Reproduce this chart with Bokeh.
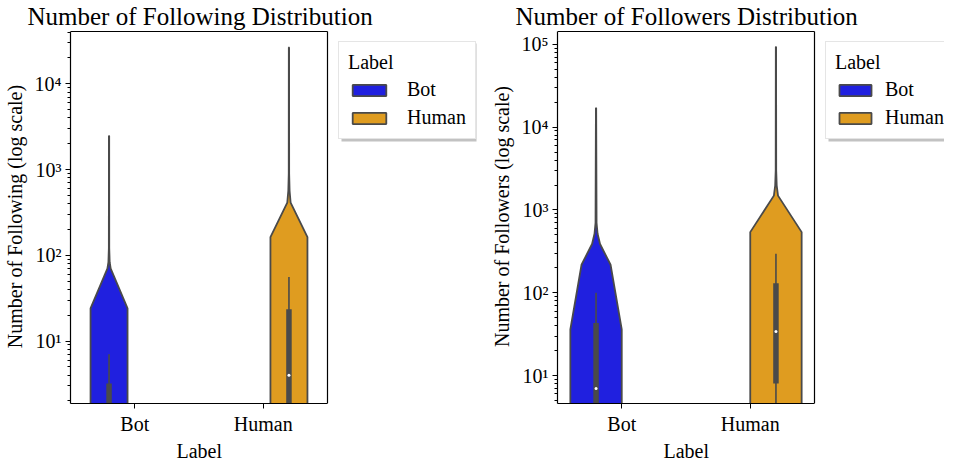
import math
from bokeh.plotting import figure
from bokeh.models import FixedTicker, Legend, LegendItem, Range1d, Title
from bokeh.layouts import row
from bokeh.embed import file_html
from bokeh.resources import INLINE

# ---------------- data ----------------
categories = ["Bot", "Human"]
colors = ["#2020df", "#df9c20"]
dodge = [-0.2, 0.2]

# Violin profiles (value levels bottom -> top, relative density)
following_levels = [
    [1.0, 24, 70, 83, 120, 2460],
    [1.0, 163, 412, 566, 900, 26500],
]
following_density = [
    [0.72, 0.72, 0.065, 0.025, 0.008, 0.005],
    [0.72, 0.72, 0.065, 0.025, 0.008, 0.005],
]
followers_levels = [
    [1.0, 36, 218, 388, 516, 700, 17000],
    [1.0, 540, 1490, 1970, 3000, 93000],
]
followers_density = [
    [1.0, 1.0, 0.565, 0.155, 0.06, 0.02, 0.005],
    [1.0, 1.0, 0.08, 0.03, 0.01, 0.005],
]

# Box statistics per category
following_whisker_lo = [1, 1]
following_q1 = [1, 1]
following_median = [1, 4]
following_q3 = [3.2, 23.5]
following_whisker_hi = [7, 56]

followers_whisker_lo = [1, 1]
followers_q1 = [2, 8]
followers_median = [7, 34]
followers_q3 = [43, 130]
followers_whisker_hi = [100, 295]

following_majors = [10, 100, 1000, 10000]
followers_majors = [10, 100, 1000, 10000, 100000]

SUP = str.maketrans("0123456789", "⁰¹²³⁴⁵⁶⁷⁸⁹")

FONT = "Liberation Serif"
EDGE = "#4a4a4a"
FW, FH = 257, 374          # plotting box size in px
HALF_SCALE = 0.2
LEG_X, LEG_TOP, LEG_H = 268, 11, 99


def make(title, ylabel, yr, levels, dens, wlo, q1, med, q3, whi, majors, mbl,
         extra, lpad, lstand, gw, lw, title_off):
    ppu = FW / 2.0
    x_end = 1.5 + extra / ppu
    ylo, yhi = yr
    ppd0 = FH / math.log10(yhi / ylo)
    y_end = yhi * 10 ** (2 / ppd0)
    ppd = FH / math.log10(y_end / ylo)

    def px_x(px):
        return -0.5 + px / ppu

    def px_y(px):
        return 10 ** (math.log10(ylo) + px / ppd)

    p = figure(
        frame_width=FW + extra, frame_height=FH,
        x_range=Range1d(-0.5, x_end), y_range=Range1d(ylo, y_end),
        y_axis_type="log", output_backend="svg", toolbar_location=None,
        min_border_left=mbl, min_border_right=0, min_border_top=0, min_border_bottom=0,
    )
    p.title.text = title
    p.title.text_font = FONT
    p.title.text_font_size = "25px"
    p.title.text_font_style = "normal"
    p.title.text_color = "black"
    p.title.align = "left"
    p.title.offset = title_off
    p.title.standoff = 0
    p.xgrid.visible = False
    p.ygrid.visible = False
    p.outline_line_color = None

    # top and right spines
    p.segment(x0=[-0.5, 1.5], y0=[yhi, ylo], x1=[1.5, 1.5], y1=[yhi, yhi],
              line_color="black", line_width=1.2)

    items = []
    for i, cat in enumerate(categories):
        cx = i + dodge[i]
        lv = levels[i]
        d = dens[i]
        xs = [cx - w * HALF_SCALE for w in d] + [cx + w * HALF_SCALE for w in reversed(d)]
        ys = list(lv) + list(reversed(lv))
        r = p.patch(xs, ys, fill_color=colors[i], line_color=EDGE, line_width=1.8)
        items.append(LegendItem(label=cat, renderers=[r]))
        p.segment(x0=[cx], y0=[wlo[i]], x1=[cx], y1=[whi[i]], line_color=EDGE, line_width=1.6)
        p.segment(x0=[cx], y0=[q1[i]], x1=[cx], y1=[q3[i]], line_color=EDGE, line_width=5.5,
                  line_cap="butt")
        p.scatter(x=[cx], y=[med[i]], size=3, fill_color="white", line_color=None)

    for ax in (p.xaxis[0], p.yaxis[0]):
        ax.axis_label_text_font = FONT
        ax.axis_label_text_font_size = "20px"
        ax.axis_label_text_font_style = "normal"
        ax.axis_label_text_color = "black"
        ax.major_label_text_font = FONT
        ax.major_label_text_font_size = "20px"
        ax.major_label_text_color = "black"
        ax.axis_line_color = "black"
        ax.axis_line_width = 1.2
        ax.major_tick_line_color = "black"
        ax.minor_tick_line_color = "black"
        ax.major_tick_in = 0
        ax.major_tick_out = 5
        ax.minor_tick_in = 0
        ax.minor_tick_out = 3
        ax.axis_label_standoff = 0
        ax.major_label_standoff = 2

    p.xaxis.bounds = (-0.5, 1.5)
    p.xaxis.ticker = FixedTicker(ticks=list(range(len(categories))))
    p.xaxis.major_label_overrides = {i: c for i, c in enumerate(categories)}
    p.xaxis.major_label_standoff = 4
    # x-axis title, centred under the plotting box (not under the legend area)
    p.add_layout(Title(text="Label", align="left", offset=106, standoff=0,
                       text_font=FONT, text_font_size="20px", text_font_style="normal",
                       text_color="black"), "below")

    minors = [k * 10 ** e for e in range(0, 6) for k in range(2, 10)]
    p.yaxis.axis_label = ylabel
    p.yaxis.bounds = (ylo, yhi)
    p.yaxis.ticker = FixedTicker(ticks=majors, minor_ticks=minors)
    p.yaxis.major_label_overrides = {m: "10" + str(len(str(m)) - 1).translate(SUP) for m in majors}
    p.yaxis.major_label_standoff = 4
    p.yaxis.axis_label_standoff = 6

    # legend drop shadow
    p.quad(left=[px_x(LEG_X + 3)], right=[px_x(LEG_X + lw + 2)],
           top=[px_y(FH - LEG_TOP - 3)], bottom=[px_y(FH - LEG_TOP - LEG_H - 2)],
           fill_color="#a8a8a8", fill_alpha=0.7, line_color=None)

    legend = Legend(
        items=items, title="Label", location=(LEG_X, FH - LEG_TOP - LEG_H),
        title_text_font=FONT, title_text_font_size="20px", title_text_font_style="normal",
        title_text_color="black",
        label_text_font=FONT, label_text_font_size="20px", label_text_color="black",
        glyph_width=gw, glyph_height=14, label_standoff=lstand,
        padding=lpad, spacing=5, title_standoff=4, margin=0,
        border_line_color="#cccccc", border_line_width=1,
        background_fill_color="white", background_fill_alpha=1,
    )
    p.add_layout(legend)
    return p


p1 = make("Number of Following Distribution", "Number of Following (log scale)",
          (1.87, 40700), following_levels, following_density,
          following_whisker_lo, following_q1, following_median, following_q3,
          following_whisker_hi, following_majors, 65, 150, 9, 17, 42, 136, -43)
p2 = make("Number of Followers Distribution", "Number of Followers (log scale)",
          (4.6, 143000), followers_levels, followers_density,
          followers_whisker_lo, followers_q1, followers_median, followers_q3,
          followers_whisker_hi, followers_majors, 80, 130, 9, 10, 40, 127, -42)

layout = row(p1, p2)
open("out.html", "w").write(file_html(layout, INLINE))
